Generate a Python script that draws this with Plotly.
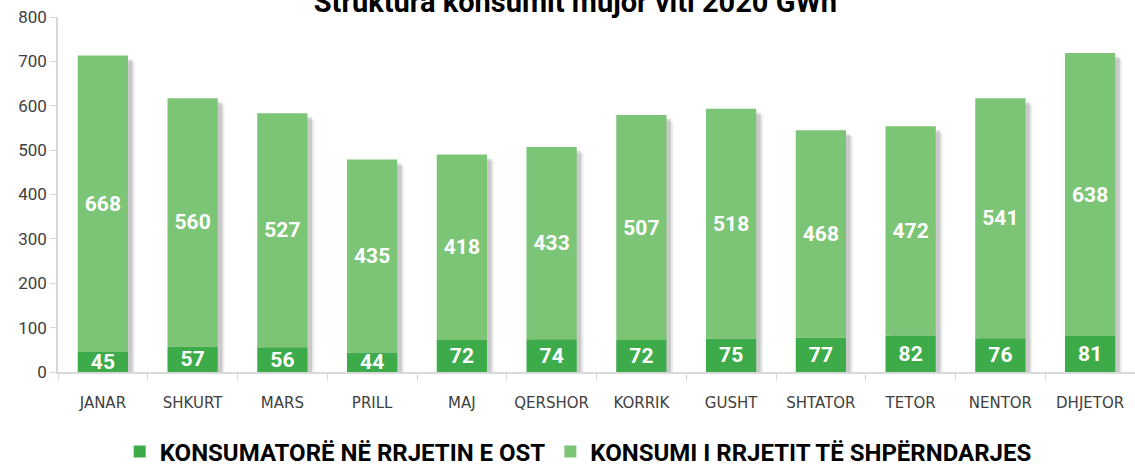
import plotly.graph_objects as go

# muajt e vitit 2020
muajt = ["JANAR", "SHKURT", "MARS", "PRILL", "MAJ", "QERSHOR", "KORRIK",
         "GUSHT", "SHTATOR", "TETOR", "NENTOR", "DHJETOR"]

# GWh
konsumatore_ost = [45, 57, 56, 44, 72, 74, 72, 75, 77, 82, 76, 81]
konsumi_shperndarjes = [668, 560, 527, 435, 418, 433, 507, 518, 468, 472, 541, 638]

y_ticks = [0, 100, 200, 300, 400, 500, 600, 700, 800]

totali = [a + b for a, b in zip(konsumatore_ost, konsumi_shperndarjes)]

GJELBER_ERRET = "#3dab4a"
GJELBER_CELET = "#7dc576"
W = 0.56

fig = go.Figure()

# hije e lehte pas shtyllave (dy shtresa per efekt te bute)
for dx, dy, alpha in [(0.075, 14, 0.08), (0.05, 9, 0.14)]:
    fig.add_trace(go.Bar(
        x=muajt, y=[t - dy for t in totali], base=[0] * len(totali),
        width=W, offset=-W / 2 + dx,
        marker=dict(color=f"rgba(0,0,0,{alpha})", line=dict(width=0)),
        hoverinfo="skip", showlegend=False,
    ))

etiketa = dict(color="white", size=21, family="Roboto", weight="bold")

fig.add_trace(go.Bar(
    x=muajt, y=konsumatore_ost, base=[0] * len(muajt),
    width=W, offset=-W / 2,
    name="KONSUMATORË NË RRJETIN E OST",
    marker=dict(color=GJELBER_ERRET, line=dict(width=0)),
    text=konsumatore_ost, textposition="inside", insidetextanchor="middle",
    textangle=0, textfont=etiketa,
))

fig.add_trace(go.Bar(
    x=muajt, y=konsumi_shperndarjes, base=konsumatore_ost,
    width=W, offset=-W / 2,
    name="KONSUMI I RRJETIT TË SHPËRNDARJES",
    marker=dict(color=GJELBER_CELET, line=dict(width=0)),
    text=konsumi_shperndarjes, textposition="inside", insidetextanchor="middle",
    textangle=0, textfont=etiketa,
))

fig.update_layout(
    barmode="overlay",
    width=1135, height=465,
    margin=dict(l=58, r=0, t=17, b=93, autoexpand=False),
    paper_bgcolor="white", plot_bgcolor="white",
    font=dict(family="Roboto", color="#404040"),
    title=dict(
        text="<b>Struktura konsumit mujor viti 2020 GWh</b>",
        x=0.507, xanchor="center", y=0.997, yanchor="middle",
        font=dict(size=29, color="black", family="Roboto"),
    ),
    uniformtext=dict(minsize=21, mode="show"),
    legend=dict(
        orientation="h", x=0.483, xanchor="center", y=-0.225, yanchor="middle",
        font=dict(size=24, color="black", family="Roboto", weight="bold"),
        traceorder="normal", itemwidth=30,
    ),
    showlegend=True,
)

fig.update_xaxes(
    showgrid=False, showline=True, linecolor="#d9d9d9", linewidth=1.5,
    tickson="boundaries", ticks="outside", ticklen=7, tickcolor="#d9d9d9",
    tickfont=dict(size=15, color="#404040", family="DejaVu Sans"),
    ticklabelstandoff=16, automargin=False,
)

fig.update_yaxes(
    range=[0, 800], tickvals=y_ticks, showgrid=False, zeroline=False,
    showline=True, linecolor="#d9d9d9", linewidth=1.5,
    ticks="outside", ticklen=6, tickcolor="#d9d9d9",
    tickfont=dict(size=17, color="#404040", family="Roboto"),
    automargin=False,
)

# faqja e paracaktuar ka 8px margin ne body; e heqim qe figura te nise nga 0,0
fig.write_html(
    "out.html",
    config={"displayModeBar": False},
    post_script="document.body.style.margin='0';",
)
